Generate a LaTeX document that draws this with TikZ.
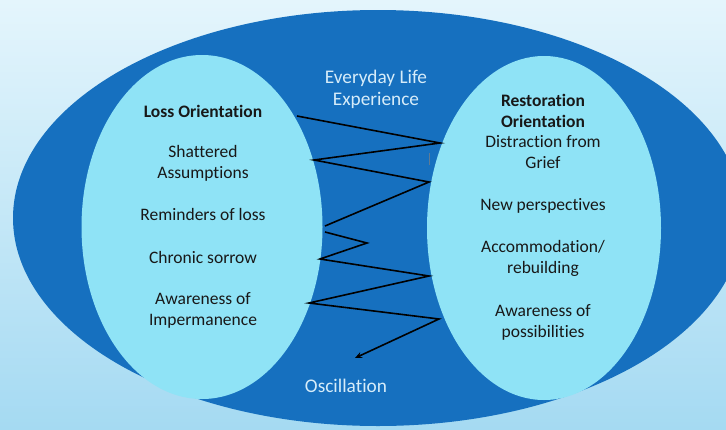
\documentclass[tikz,border=0pt]{standalone}
\usepackage{fontspec}
\setmainfont{Carlito}[Ligatures=NoCommon]
\usetikzlibrary{shapes.geometric,arrows.meta}
\definecolor{bgtop}{RGB}{228,245,252}
\definecolor{bgbot}{RGB}{165,218,242}
\definecolor{deepblue}{RGB}{22,112,191}
\definecolor{paleblue}{RGB}{143,227,246}
\definecolor{inktext}{RGB}{24,24,24}
\definecolor{softtext}{RGB}{214,236,249}
\begin{document}
\begin{tikzpicture}[x=1pt,y=-1pt,
  blob/.style={ellipse,inner sep=0pt,draw=none},
  label/.style={font=\fontsize{17.5}{21}\selectfont,align=center,anchor=base,inner sep=0pt,text=inktext},
  title/.style={label,font=\fontsize{17.5}{21}\selectfont\bfseries},
  onblue/.style={label,font=\fontsize{19.3}{22}\selectfont,text=softtext},
  zig/.style={line width=1.6pt,black,line join=miter}]
  % background
  \shade[top color=bgtop,bottom color=bgbot] (0,0) rectangle (726,429);
  \useasboundingbox (0,0) rectangle (726,429);
  % everyday life experience and the two orientations
  \node[blob,fill=deepblue,minimum width=730pt,minimum height=416pt] (life) at (378,218) {};
  \node[blob,fill=paleblue,minimum width=241pt,minimum height=344pt] (loss) at (202,227) {};
  \node[blob,fill=paleblue,minimum width=234pt,minimum height=344pt] (resto) at (544,228) {};
  % loss orientation (multi-line labels sit on the baseline of their last line)
  \node[title] (lossT) at (203,117) {Loss Orientation};
  \node[label] (l1) at (203,178) {Shattered\\Assumptions};
  \node[label] (l2) at (203,220) {Reminders of loss};
  \node[label] (l3) at (203,263) {Chronic sorrow};
  \node[label] (l4) at (203,325) {Awareness of\\Impermanence};
  % restoration orientation
  \node[title] (restT) at (543,127) {Restoration\\Orientation};
  \node[label] (r1) at (543,168) {Distraction from\\Grief};
  \node[label] (r2) at (543,210) {New perspectives};
  \node[label] (r3) at (543,273) {Accommodation/\\rebuilding};
  \node[label] (r4) at (543,337) {Awareness of\\possibilities};
  % middle labels
  \node[onblue] (every) at (376,105) {Everyday Life\\Experience};
  \node[onblue] (osc) at (346,392) {Oscillation};
  % oscillation zigzag
  \coordinate (a1) at (297,116);
  \coordinate (a2) at (440,143);
  \coordinate (a3) at (314,160);
  \coordinate (a4) at (429,182);
  \coordinate (a5) at (325,226);
  \coordinate (b1) at (325,232);
  \coordinate (b2) at (367,243);
  \coordinate (b3) at (320,259);
  \coordinate (b4) at (429,276);
  \coordinate (b5) at (309,303);
  \coordinate (b6) at (439,319);
  \coordinate (b7) at (355,358);
  \draw[zig] (a1) -- (a2) -- (a3) -- (a4) -- (a5);
  \draw[zig,-{Stealth[length=7pt,width=6pt]}] (b1) -- (b2) -- (b3) -- (b4) -- (b5) -- (b6) -- (b7);
  \coordinate (t1) at (429,153);
  \coordinate (t2) at (429,165);
  \draw[gray!70!deepblue,line width=0.8pt] (t1) -- (t2);
\end{tikzpicture}
\end{document}
